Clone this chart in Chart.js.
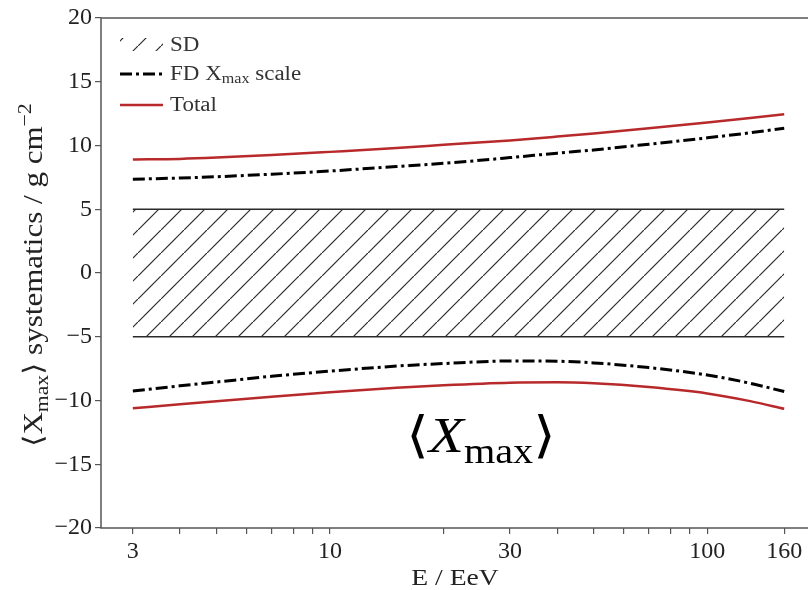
<!DOCTYPE html>
<html>
<head>
<meta charset="utf-8">
<script src="https://cdn.jsdelivr.net/npm/chart.js@4.4.0/dist/chart.umd.min.js"></script>
<style>
  html, body { margin: 0; padding: 0; background: #fff; }
  #box { width: 808px; height: 590px; }
</style>
</head>
<body>
<div id="box"><canvas id="grafico" width="808" height="590"></canvas></div>
<script>
// energias (EeV) e sistematicas de <Xmax> (g cm^-2)
const energias = [3, 4, 5, 7, 10, 15, 20, 30, 40, 50, 70, 100, 130, 160];
const totalSup = [8.9, 8.95, 9.05, 9.25, 9.5, 9.8, 10.05, 10.4, 10.7, 10.95, 11.35, 11.8, 12.15, 12.45];
const fdSup = [7.35, 7.45, 7.55, 7.75, 8.0, 8.35, 8.6, 9.05, 9.4, 9.65, 10.1, 10.6, 11.0, 11.35];
const fdInf = [-9.25, -8.85, -8.55, -8.1, -7.7, -7.3, -7.1, -6.9, -6.92, -7.05, -7.42, -8.0, -8.65, -9.3];
const totalInf = [-10.6, -10.3, -10.05, -9.7, -9.35, -9.0, -8.8, -8.6, -8.57, -8.65, -8.95, -9.45, -10.05, -10.65];

// banda SD
const sdEnergias = [3, 160];
const sdSup = [5, 5];
const sdInf = [-5, -5];

const ticksMaiores = [3, 10, 30, 100, 160];
const ticksMenores = [4, 5, 6, 7, 8, 9, 20, 40, 50, 60, 70, 80, 90];
const ticksY = [-20, -15, -10, -5, 0, 5, 10, 15, 20];

const SERIF = '"Liberation Serif", "DejaVu Serif", serif';
const VERMELHO = '#b8292b';
const TRACO_PONTO = [12, 4, 3, 4];
const ESTICA = 1.15; // alarga um pouco as letras

function pontos(xs, ys) {
    return xs.map((x, i) => ({ x: x, y: ys[i] }));
}

// padrao hachurado da banda SD
function criarHachura(ctx) {
    const c = document.createElement('canvas');
    c.width = 23; c.height = 23;
    const g = c.getContext('2d');
    g.strokeStyle = '#2a2a2a';
    g.lineWidth = 1.2;
    g.beginPath();
    g.moveTo(-2, 25); g.lineTo(25, -2);
    g.stroke();
    return ctx.createPattern(c, 'repeat');
}

const ctx = document.getElementById('grafico').getContext('2d');
const hachura = criarHachura(ctx);

function fonte(g, p, tam) {
    const t = p.esc ? tam * 0.7 : tam;
    g.font = (p.italico ? 'italic ' : '') + t + 'px ' + SERIF;
}

// texto com subscrito/sobrescrito, desenhado em pedacos
function desenharPedacos(g, pedacos, x, y, tam) {
    let cx = x;
    pedacos.forEach(p => {
        fonte(g, p, tam);
        let dy = 0;
        if (p.esc === 'sub') dy = tam * 0.22;
        if (p.esc === 'sup') dy = -tam * 0.4;
        g.save();
        g.translate(cx, y + dy);
        g.scale(ESTICA, 1);
        g.fillText(p.t, 0, 0);
        g.restore();
        cx += g.measureText(p.t).width * ESTICA;
    });
    return cx - x;
}

function larguraPedacos(g, pedacos, tam) {
    let w = 0;
    pedacos.forEach(p => {
        fonte(g, p, tam);
        w += g.measureText(p.t).width * ESTICA;
    });
    return w;
}

const extras = {
    id: 'extras',
    afterDraw(chart) {
        const g = chart.ctx;
        const a = chart.chartArea;
        g.save();

        // moldura
        g.strokeStyle = '#555';
        g.lineWidth = 1.5;
        g.strokeRect(a.left, a.top, a.right - a.left + 5, a.bottom - a.top);

        // legenda
        g.textBaseline = 'middle';
        g.save();
        g.beginPath();
        g.rect(120, 38, 43, 13);
        g.clip();
        g.fillStyle = hachura;
        g.fillRect(120, 38, 43, 13);
        g.restore();

        g.strokeStyle = '#000';
        g.lineWidth = 3;
        g.setLineDash(TRACO_PONTO);
        g.beginPath(); g.moveTo(120, 74); g.lineTo(163, 74); g.stroke();
        g.setLineDash([]);
        g.strokeStyle = VERMELHO;
        g.lineWidth = 2.5;
        g.beginPath(); g.moveTo(120, 105); g.lineTo(163, 105); g.stroke();

        g.fillStyle = '#333';
        desenharPedacos(g, [{ t: 'SD' }], 170, 46, 20);
        desenharPedacos(g, [{ t: 'FD X' }, { t: 'max', esc: 'sub' }, { t: ' scale' }], 170, 75, 20);
        desenharPedacos(g, [{ t: 'Total' }], 170, 106, 20);

        // rotulo <Xmax> no meio do grafico
        g.fillStyle = '#000';
        g.textBaseline = 'alphabetic';
        const rotulo = [{ t: '\u27E8' }, { t: 'X', italico: true }, { t: 'max', esc: 'sub' }, { t: '\u27E9' }];
        const wr = larguraPedacos(g, rotulo, 50);
        desenharPedacos(g, rotulo, 481 - wr / 2, 452, 50);

        // titulo eixo x
        g.fillStyle = '#222';
        const tituloX = [{ t: 'E / EeV' }];
        const wx = larguraPedacos(g, tituloX, 24);
        desenharPedacos(g, tituloX, 455 - wx / 2, 585, 24);

        // titulo eixo y
        const tituloY = [{ t: '\u27E8X' }, { t: 'max', esc: 'sub' }, { t: '\u27E9 systematics / g cm' }, { t: '\u22122', esc: 'sup' }];
        const wy = larguraPedacos(g, tituloY, 27);
        g.translate(42, 275);
        g.rotate(-Math.PI / 2);
        desenharPedacos(g, tituloY, -wy / 2, 0, 27);

        g.restore();
    }
};

const linha = (dados, cor, larg, traco) => ({
    data: dados,
    borderColor: cor,
    borderWidth: larg,
    borderDash: traco || [],
    fill: false,
    pointRadius: 0,
    cubicInterpolationMode: 'monotone'
});

new Chart(ctx, {
    type: 'line',
    data: {
        datasets: [{
            label: 'SD',
            data: pontos(sdEnergias, sdSup),
            borderColor: '#2a2a2a',
            borderWidth: 1.5,
            backgroundColor: hachura,
            fill: '+1',
            pointRadius: 0
        }, {
            label: 'SD inf',
            data: pontos(sdEnergias, sdInf),
            borderColor: '#2a2a2a',
            borderWidth: 1.5,
            fill: false,
            pointRadius: 0
        },
        Object.assign({ label: 'FD Xmax scale' }, linha(pontos(energias, fdSup), '#000', 3, TRACO_PONTO)),
        Object.assign({ label: 'FD inf' }, linha(pontos(energias, fdInf), '#000', 3, TRACO_PONTO)),
        Object.assign({ label: 'Total' }, linha(pontos(energias, totalSup), VERMELHO, 2.5)),
        Object.assign({ label: 'Total inf' }, linha(pontos(energias, totalInf), VERMELHO, 2.5))
        ]
    },
    options: {
        responsive: false,
        animation: false,
        layout: { padding: { top: 18, right: 0, left: 0, bottom: 0 } },
        plugins: { legend: { display: false }, tooltip: { enabled: false } },
        scales: {
            x: {
                type: 'logarithmic',
                min: 2.47,
                max: 185,
                afterFit: s => { s.height = 62; },
                afterBuildTicks: s => {
                    s.ticks = ticksMaiores.concat(ticksMenores).sort((a, b) => a - b).map(v => ({ value: v }));
                },
                ticks: {
                    autoSkip: false,
                    maxRotation: 0,
                    padding: 3,
                    color: '#222',
                    font: { family: SERIF, size: 24 },
                    callback: v => ticksMaiores.includes(v) ? String(v) : ''
                },
                grid: { drawOnChartArea: false, tickLength: 6, color: '#555', lineWidth: 1.2 },
                border: { display: false }
            },
            y: {
                min: -20,
                max: 20,
                afterFit: s => { s.width = 101; },
                afterBuildTicks: s => { s.ticks = ticksY.map(v => ({ value: v })); },
                ticks: {
                    padding: 3,
                    color: '#222',
                    font: { family: SERIF, size: 24 },
                    callback: v => String(v).replace('-', '\u2212')
                },
                grid: { drawOnChartArea: false, tickLength: 6, color: '#555', lineWidth: 1.2 },
                border: { display: false }
            }
        }
    },
    plugins: [extras]
});
</script>
</body>
</html>
